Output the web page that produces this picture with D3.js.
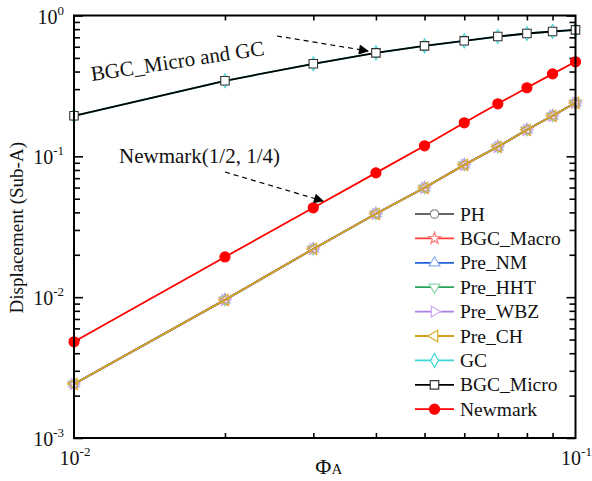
<!DOCTYPE html>
<html><head><meta charset="utf-8">
<script src="https://cdn.jsdelivr.net/npm/d3@7"></script>
<style>body{margin:0;background:#fff}</style>
</head><body>
<svg id="c" width="592" height="481"></svg>
<script>
// ---- data ----
const phiA = [0.01, 0.02, 0.03, 0.04, 0.05, 0.06, 0.07, 0.08, 0.09, 0.1];
const lowerGroup = [0.00242, 0.00957, 0.0220, 0.0391, 0.0598, 0.0870, 0.1168, 0.1543, 0.194, 0.240];
const newmarkVals = [0.00482, 0.0193, 0.0431, 0.0763, 0.1188, 0.173, 0.236, 0.307, 0.385, 0.469];
const bgcMicroVals = [0.194, 0.344, 0.454, 0.543, 0.609, 0.661, 0.709, 0.745, 0.770, 0.791];
const seriesNames = ["PH", "BGC_Macro", "Pre_NM", "Pre_HHT", "Pre_WBZ", "Pre_CH", "GC", "BGC_Micro", "Newmark"];
const xTickExps = [-2, -1];
const yTickExps = [-3, -2, -1, 0];
const xTitle = "\u03A6";
const xTitleSub = "A";
const yTitle = "Displacement (Sub-A)";
const note1 = "BGC_Micro and GC";
const note2 = "Newmark(1/2, 1/4)";

const seriesData = {
  "PH": lowerGroup, "BGC_Macro": lowerGroup, "Pre_NM": lowerGroup, "Pre_HHT": lowerGroup,
  "Pre_WBZ": lowerGroup, "Pre_CH": lowerGroup, "GC": bgcMicroVals, "BGC_Micro": bgcMicroVals,
  "Newmark": newmarkVals
};
const styles = {
  "PH":        {line: "#666666", mk: "#888888", sym: d3.symbolCircle, size: 56, rot: 0, fill: "#fff"},
  "BGC_Macro": {line: "#ff3b3b", mk: "#ff7b7b", sym: d3.symbolStar, size: 42, rot: 0, fill: "none"},
  "Pre_NM":    {line: "#1f63d6", mk: "#8fb2f0", sym: d3.symbolTriangle, size: 50, rot: 0, fill: "none"},
  "Pre_HHT":   {line: "#2aa35a", mk: "#8fd8aa", sym: d3.symbolTriangle, size: 50, rot: 180, fill: "none"},
  "Pre_WBZ":   {line: "#b07fe6", mk: "#cfaaf3", sym: d3.symbolTriangle, size: 50, rot: 90, fill: "none"},
  "Pre_CH":    {line: "#d4a21c", mk: "#d9aa2a", sym: d3.symbolTriangle, size: 56, rot: -90, fill: "none"},
  "GC":        {line: "#3fd8d8", mk: "#3fd8d8", sym: d3.symbolDiamond, size: 56, rot: 0, fill: "#fff"},
  "BGC_Micro": {line: "#000000", mk: "#333333", sym: d3.symbolSquare, size: 72, rot: 0, fill: "#fff"},
  "Newmark":   {line: "#ff0000", mk: "#ff0000", sym: d3.symbolCircle, size: 80, rot: 0, fill: "#ff0000"}
};

const svg = d3.select("#c");
const L = 74, R = 575.5, T = 15.5, B = 438;
const x = d3.scaleLog().domain([0.01, 0.1]).range([L, R]);
const y = d3.scaleLog().domain([1e-3, 1]).range([B, T]);
const font = "'Liberation Serif', 'Times New Roman', serif";

svg.append("defs").append("marker")
  .attr("id", "arr").attr("viewBox", "0 0 10 10").attr("refX", 9).attr("refY", 5)
  .attr("markerWidth", 14).attr("markerHeight", 10).attr("markerUnits", "userSpaceOnUse")
  .attr("orient", "auto")
  .append("path").attr("d", "M0,0 L10,5 L0,10 z").attr("fill", "#000");

// ---- axes ticks ----
const yMajor = yTickExps.map(e => Math.pow(10, e));
const yMinor = y.ticks().filter(v => !yMajor.some(m => Math.abs(m - v) / v < 1e-6));
const xMajor = xTickExps.map(e => Math.pow(10, e));
const xMinor = x.ticks().filter(v => !xMajor.some(m => Math.abs(m - v) / v < 1e-6));

function axis(gen, scale, vals, size, tx, ty) {
  const g = svg.append("g").attr("transform", `translate(${tx},${ty})`)
    .call(gen(scale).tickValues(vals).tickSize(size).tickFormat(""));
  g.select(".domain").remove();
  g.selectAll("line").attr("stroke", "#000").attr("stroke-width", 1.6);
}
axis(d3.axisLeft, y, yMajor, -9, L, 0);
axis(d3.axisLeft, y, yMinor, -6, L, 0);
axis(d3.axisRight, y, yMajor, -9, R, 0);
axis(d3.axisRight, y, yMinor, -6, R, 0);
axis(d3.axisBottom, x, xMinor, -5, 0, B);
axis(d3.axisTop, x, xMinor, -5, 0, T);

// ---- series ----
const line = d3.line().x((d, i) => x(phiA[i])).y(d => y(d));
seriesNames.forEach(name => {
  const st = styles[name], vals = seriesData[name];
  const g = svg.append("g");
  g.append("path").datum(vals).attr("d", line).attr("fill", "none")
    .attr("stroke", st.line).attr("stroke-width", 1.8);
  g.selectAll("path.m").data(vals).enter().append("path").attr("class", "m")
    .attr("d", d3.symbol().type(st.sym).size(st.size))
    .attr("transform", (d, i) => `translate(${x(phiA[i])},${y(d)}) rotate(${st.rot})`)
    .attr("fill", st.fill).attr("stroke", st.mk).attr("stroke-width", 1.1);
});

// ---- frame ----
svg.append("rect").attr("x", L).attr("y", T).attr("width", R - L).attr("height", B - T)
  .attr("fill", "none").attr("stroke", "#000").attr("stroke-width", 2);

// ---- tick labels ----
yTickExps.forEach(e => {
  const t = svg.append("text").attr("x", 64).attr("y", y(Math.pow(10, e)) + 8)
    .attr("text-anchor", "end").attr("font-family", font).attr("font-size", 20).attr("fill", "#111");
  t.append("tspan").text("10");
  t.append("tspan").attr("dy", -9).attr("font-size", 13).text(e);
});
xTickExps.forEach(e => {
  const t = svg.append("text").attr("x", x(Math.pow(10, e)) + 1).attr("y", 465)
    .attr("text-anchor", "middle").attr("font-family", font).attr("font-size", 20).attr("fill", "#111");
  t.append("tspan").text("10");
  t.append("tspan").attr("dy", -9).attr("font-size", 13).text(e);
});

// ---- titles ----
const xt = svg.append("text").attr("x", (L + R) / 2 + 4).attr("y", 474)
  .attr("text-anchor", "middle").attr("font-family", font).attr("fill", "#111");
xt.append("tspan").attr("font-size", 22).text(xTitle);
xt.append("tspan").attr("font-size", 15).text(xTitleSub);
svg.append("text").attr("transform", `translate(23,${(T + B) / 2 + 1}) rotate(-90)`)
  .attr("text-anchor", "middle").attr("font-family", font).attr("font-size", 19)
  .attr("fill", "#111").text(yTitle);

// ---- annotations ----
svg.append("text").attr("transform", "translate(92,81) rotate(-8.6)")
  .attr("font-family", font).attr("font-size", 21).attr("fill", "#111").text(note1);
svg.append("line").attr("x1", 277).attr("y1", 36).attr("x2", 368).attr("y2", 51)
  .attr("stroke", "#000").attr("stroke-width", 1.2).attr("stroke-dasharray", "5,4")
  .attr("marker-end", "url(#arr)");
svg.append("text").attr("x", 119).attr("y", 163)
  .attr("font-family", font).attr("font-size", 21).attr("fill", "#111").text(note2);
svg.append("line").attr("x1", 225).attr("y1", 172).attr("x2", 323).attr("y2", 201)
  .attr("stroke", "#000").attr("stroke-width", 1.2).attr("stroke-dasharray", "5,4")
  .attr("marker-end", "url(#arr)");

// ---- legend ----
const lg = svg.append("g");
seriesNames.forEach((name, i) => {
  const st = styles[name];
  const yy = 214 + i * 24.4;
  lg.append("line").attr("x1", 415).attr("x2", 454).attr("y1", yy).attr("y2", yy)
    .attr("stroke", st.line).attr("stroke-width", 1.8);
  lg.append("path").attr("d", d3.symbol().type(st.sym).size(st.size))
    .attr("transform", `translate(434.5,${yy}) rotate(${st.rot})`)
    .attr("fill", st.fill === "none" ? "#fff" : st.fill).attr("stroke", st.mk).attr("stroke-width", 1.2);
  lg.append("text").attr("x", 460).attr("y", yy + 6.5).attr("font-family", font)
    .attr("font-size", 19.5).attr("fill", "#111").text(name);
});
</script>
</body></html>
